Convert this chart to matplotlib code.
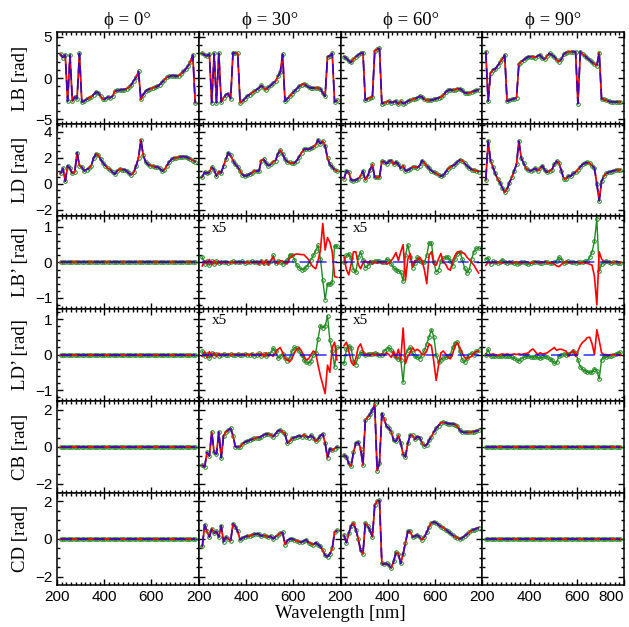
import matplotlib
matplotlib.use("Agg")
import matplotlib.pyplot as plt
from matplotlib.ticker import MultipleLocator

# wavelength grid [nm]
wl = list(range(215, 790, 10))

# ---- LB [rad] ----
lb_0 = [2.9, 2.5, 2.8, -2.8, 2.8, -2.8, -2.3, -2.5, 3.0, -2.9,
        -2.8, -2.6, -2.4, -2.3, -2.0, -1.7, -1.8, -2.2, -2.6, -2.5,
        -2.3, -2.4, -2.2, -1.6, -1.5, -1.5, -1.4, -1.4, -1.3, -1.1,
        -0.8, -0.3, 0.1, 0.8, -2.6, -2.0, -1.6, -1.4, -1.3, -1.2,
        -1.1, -1.0, -0.8, -0.5, -0.2, 0.1, 0.2, 0.3, 0.3, 0.2,
        0.3, 0.5, 0.8, 1.1, 1.5, 2.0, 2.8, -3.0]
lb_30 = [3.0, 2.8, 2.7, 2.9, -3.0, 3.0, -3.0, 3.0, -2.9, -2.4,
         -2.0, -1.9, -2.5, 3.1, 3.0, 3.0, -3.0, -2.8, -2.5, -2.2,
         -2.0, -1.8, -1.6, -1.4, -1.2, -0.9, -1.2, -1.4, -1.1, -0.9,
         -0.6, -0.4, 0.2, 0.7, 2.9, -2.8, -2.5, -2.2, -1.9, -1.6,
         -1.3, -1.0, -0.8, -0.7, -0.9, -1.1, -1.2, -1.2, -1.2, -1.2,
         -1.3, -1.8, -2.2, 2.6, 2.7, 3.0, -2.9, -2.7]
lb_60 = [2.6, 2.4, 2.1, 1.9, 2.3, 2.6, 2.8, 3.0, 3.1, -2.7,
         -2.5, -2.4, -2.3, 3.3, 3.5, 3.6, -3.1, -3.0, -2.9, -2.8,
         -3.0, -2.9, -2.8, -3.2, -2.8, -3.1, -3.0, -2.8, -2.7, -2.6,
         -2.5, -2.4, -2.2, -2.3, -2.6, -2.7, -2.7, -2.7, -2.6, -2.5,
         -2.4, -2.3, -2.1, -1.7, -1.5, -1.4, -1.5, -1.4, -1.3, -1.3,
         -1.5, -1.8, -1.8, -1.8, -1.7, -1.6, -1.5, -1.4]
lb_90 = [3.2, -2.8, 0.6, 1.0, 1.1, 1.5, 1.9, 2.3, 2.8, -2.8,
         -2.7, -2.6, -2.5, -2.4, 1.7, 2.0, 2.2, 2.4, 2.6, 2.6,
         2.6, 2.5, 2.7, 2.8, 2.4, 2.3, 2.7, 3.0, 2.8, 2.6,
         2.2, 2.0, 2.3, 2.9, 3.1, 3.2, 3.2, 3.2, 3.2, -3.1,
         3.2, 2.9, 2.7, 2.4, 2.2, 1.9, 1.7, 1.5, 3.1, -2.5,
         -2.6, -2.7, -2.8, -2.9, -2.9, -2.9, -2.9, -2.9]

# ---- LD [rad] ----
ld_0 = [0.8, 1.2, 0.2, 1.4, 1.2, 0.8, 0.9, 2.4, 1.4, 1.3,
        1.0, 1.1, 1.2, 1.4, 2.0, 2.3, 2.2, 1.9, 1.6, 1.4,
        1.2, 1.1, 0.9, 0.75, 1.0, 1.15, 1.1, 1.1, 1.0, 0.8,
        0.7, 0.9, 1.4, 2.0, 3.4, 2.2, 1.7, 1.5, 1.4, 1.4,
        1.3, 1.3, 1.2, 1.0, 1.1, 1.4, 1.7, 1.9, 2.0, 2.0,
        2.05, 2.1, 2.1, 2.1, 2.0, 1.9, 1.8, 1.7]
ld_30 = [0.55, 0.9, 0.8, 0.9, 1.3, 1.1, 0.6, 0.95, 0.85, 1.4,
         1.9, 2.4, 2.2, 1.8, 1.5, 1.3, 1.0, 0.7, 0.6, 0.65,
         0.75, 0.85, 1.0, 1.0, 1.0, 1.8, 1.9, 1.6, 1.4, 1.5,
         1.7, 1.8, 2.3, 2.6, 2.3, 1.9, 1.7, 1.65, 1.6, 1.6,
         1.8, 2.1, 2.4, 2.65, 2.7, 2.65, 2.75, 2.85, 3.0, 3.4,
         3.1, 3.3, 2.9, 2.0, 1.5, 1.3, 1.1, 1.0]
ld_60 = [0.4, 1.0, 0.9, 0.3, 0.25, 0.3, 0.4, 0.6, 1.0, 0.3,
         0.6, 1.1, 1.5, 0.5, 0.5, 0.5, 1.75, 1.7, 1.55, 1.75,
         1.8, 1.5, 1.7, 1.5, 1.2, 1.4, 1.0, 1.05, 1.15, 1.3,
         1.3, 1.25, 1.4, 1.8, 1.6, 1.4, 1.2, 1.0, 0.9, 0.8,
         0.7, 0.6, 0.65, 0.9, 1.15, 1.3, 1.4, 1.5, 1.7, 1.85,
         1.8, 1.6, 1.4, 1.25, 1.1, 1.05, 1.0, 0.95]
ld_90 = [0.3, 3.3, 1.8, 1.3, 0.8, 0.4, 0.1, -0.3, -0.65, -0.4,
         0.1, 0.5, 1.0, 1.5, 3.3, 2.0, 1.6, 1.2, 1.05, 1.0,
         1.1, 1.2, 1.0, 1.2, 1.4, 1.05, 0.9, 1.0, 1.1, 1.5,
         1.75, 1.6, 1.0, 0.4, 0.4, 0.6, 0.6, 0.8, 0.9, 1.1,
         1.3, 1.5, 1.6, 1.65, 1.6, 1.4, 1.2, 0.0, -1.3, 0.2,
         0.6, 0.8, 0.9, 0.95, 1.0, 1.05, 1.05, 1.1]

# ---- LB' (x5 for 30/60 deg), green = circles, red = line ----
lbp_30_g = [0.15, -0.05, 0.05, -0.08, 0.03, -0.05, 0.04, -0.03, 0.02, 0.0,
            0.02, -0.02, 0.01, 0.03, 0.0, 0.02, 0.0, 0.03, -0.03, 0.02,
            0.0, 0.03, 0.01, 0.0, -0.02, 0.03, -0.02, 0.04, -0.03, 0.05,
            0.2, -0.03, 0.05, 0.0, -0.05, 0.0, 0.07, 0.22, 0.2, 0.08,
            -0.08, -0.15, -0.2, -0.19, -0.12, -0.04, 0.08, 0.2, 0.33, 0.48,
            0.1, -0.5, -1.05, -0.6, -0.62, -0.55, 0.47, 0.45]
lbp_30_r = [-0.1, 0.05, -0.05, 0.08, -0.06, 0.05, -0.05, 0.04, -0.03, 0.02,
            -0.02, 0.02, -0.02, 0.02, -0.02, 0.02, -0.02, 0.02, -0.02, 0.02,
            -0.02, 0.02, -0.02, 0.03, -0.05, 0.05, -0.06, 0.06, -0.07, 0.05,
            0.15, 0.0, -0.04, 0.05, 0.04, -0.02, -0.04, 0.12, 0.18, 0.22,
            0.24, 0.23, 0.22, 0.22, 0.15, 0.08, -0.05, -0.13, -0.18, 0.05,
            0.34, 1.1, 0.35, 0.7, 0.57, 0.3, -0.4, -0.42]
lbp_60_g = [0.0, 0.2, 0.25, 0.12, -0.2, -0.28, 0.15, 0.3, 0.08, -0.15,
            -0.1, 0.0, 0.02, 0.03, 0.05, 0.03, 0.0, 0.0, 0.1, 0.05,
            -0.05, -0.15, -0.2, -0.25, -0.27, -0.53, 0.2, 0.5, 0.15, -0.15,
            -0.03, 0.15, 0.05, 0.0, 0.0, 0.2, 0.55, 0.55, 0.0, -0.27,
            -0.2, 0.05, 0.12, 0.15, 0.15, 0.05, -0.1, 0.1, 0.25, 0.3,
            0.1, -0.15, -0.3, -0.2, 0.1, 0.3, 0.4, 0.42]
lbp_60_r = [0.15, -0.2, -0.35, -0.05, 0.3, 0.3, -0.05, -0.18, -0.02, 0.05,
            -0.02, 0.04, -0.04, 0.02, -0.02, 0.03, -0.03, 0.02, -0.05, -0.02,
            0.05, 0.15, 0.28, 0.05, 0.3, 0.5, -0.5, 0.1, 0.25, -0.12,
            0.05, 0.05, 0.15, 0.05, -0.2, -0.6, 0.2, 0.3, -0.05, -0.08,
            0.1, 0.25, 0.0, -0.05, -0.18, -0.22, 0.05, 0.2, 0.3, 0.3,
            0.28, 0.25, 0.15, 0.08, 0.0, -0.08, -0.2, -0.3]
lbp_90_g = [0.1, 0.12, -0.05, 0.03, 0.0, -0.03, 0.02, 0.08, 0.0, -0.03,
            0.02, 0.0, -0.02, -0.05, -0.03, 0.02, 0.0, -0.02, -0.05, -0.03,
            0.0, 0.02, 0.0, -0.03, -0.02, 0.0, 0.0, -0.03, -0.02, 0.0,
            0.05, 0.15, 0.08, -0.03, 0.0, 0.03, 0.0, 0.0, -0.02, 0.0,
            0.0, 0.02, 0.03, 0.05, 0.15, 0.3, 0.6, 1.23, -0.25, -0.05,
            0.0, 0.05, 0.0, -0.02, 0.0, 0.0, -0.03, -0.02]
lbp_90_r = [-0.08, 0.0, -0.02, 0.02, -0.02, 0.02, 0.0, -0.02, 0.0, 0.02,
            0.0, -0.02, 0.0, 0.02, 0.0, -0.02, 0.0, 0.02, 0.0, -0.02,
            0.0, 0.02, 0.0, -0.02, 0.0, 0.02, 0.0, -0.02, 0.0, -0.05,
            -0.1, -0.12, -0.06, 0.0, 0.02, 0.0, -0.02, 0.0, 0.02, 0.0,
            -0.02, 0.0, -0.02, -0.03, -0.05, -0.08, -0.4, -1.2, 0.3, 0.1,
            0.02, 0.0, 0.02, 0.0, 0.0, 0.02, 0.0, 0.0]

# ---- LD' ----
ldp_30_g = [0.1, -0.05, 0.03, -0.1, 0.05, -0.03, 0.02, -0.03, 0.0, 0.02,
            -0.02, 0.0, 0.02, -0.02, 0.0, 0.02, -0.02, 0.0, 0.02, -0.02,
            0.0, 0.03, -0.03, 0.0, 0.04, -0.04, 0.02, -0.05, 0.03, 0.05,
            0.18, 0.1, -0.1, -0.05, 0.02, -0.1, -0.17, -0.1, 0.1, 0.2,
            0.18, 0.1, 0.0, -0.15, -0.22, -0.25, -0.18, 0.0, 0.05, 0.45,
            0.82, 0.75, 0.8, 1.1, 0.4, 0.1, -0.35, 0.2]
ldp_30_r = [-0.05, 0.08, -0.08, 0.08, -0.06, 0.05, -0.05, 0.04, -0.03, 0.02,
            -0.02, 0.02, -0.02, 0.02, -0.02, 0.02, -0.02, 0.02, -0.02, 0.02,
            -0.02, 0.02, -0.03, 0.03, -0.04, 0.04, -0.05, 0.05, -0.04, 0.0,
            -0.05, 0.05, 0.15, 0.2, 0.05, -0.1, -0.15, -0.2, -0.1, 0.05,
            0.15, 0.2, 0.1, -0.05, -0.15, -0.12, 0.0, 0.1, 0.05, -0.3,
            -0.6, -0.85, -1.1, -0.3, -0.5, 0.2, 0.35, -0.15]
ldp_60_g = [-0.25, 0.15, 0.25, 0.18, -0.2, -0.28, -0.05, 0.06, 0.05, 0.0,
            0.02, 0.02, 0.01, 0.05, 0.03, 0.0, 0.0, 0.1, 0.15, 0.2,
            0.12, 0.0, -0.08, -0.12, -0.15, -0.78, 0.0, 0.12, 0.2, 0.05,
            -0.05, -0.08, -0.12, 0.0, 0.12, 0.3, 0.5, 0.7, 0.5, 0.0,
            -0.22, -0.15, -0.1, -0.08, -0.05, 0.0, 0.2, 0.33, 0.35, 0.1,
            -0.15, -0.22, -0.1, 0.0, 0.05, 0.0, 0.1, 0.12]
ldp_60_r = [0.25, 0.35, 0.1, -0.2, -0.3, -0.1, 0.2, 0.3, 0.1, -0.03,
            0.02, -0.02, 0.03, -0.03, 0.02, -0.02, 0.02, -0.02, 0.05, 0.0,
            -0.08, 0.1, -0.1, 0.15, -0.15, 0.75, -0.25, -0.05, 0.05, 0.2,
            0.1, 0.15, 0.1, 0.0, 0.0, 0.1, 0.3, 0.25, -0.2, -0.73,
            -0.3, 0.05, 0.1, 0.02, -0.08, -0.12, 0.02, 0.25, 0.33, 0.2,
            0.05, -0.08, -0.12, -0.08, -0.05, 0.05, 0.08, 0.1]
ldp_90_g = [0.0, 0.15, -0.05, -0.03, -0.05, -0.03, -0.05, -0.03, -0.05, -0.03,
            -0.05, -0.08, -0.1, -0.15, -0.17, -0.12, -0.08, -0.05, -0.05, -0.08,
            -0.07, -0.06, -0.08, -0.1, -0.08, -0.05, -0.08, -0.12, -0.15, -0.25,
            -0.22, -0.05, 0.0, 0.02, 0.0, 0.03, 0.05, 0.1, 0.05, -0.15,
            -0.35, -0.42, -0.45, -0.5, -0.5, -0.5, -0.4, -0.45, -0.69, -0.15,
            -0.05, -0.08, -0.05, -0.03, 0.0, 0.02, 0.05, 0.06]
ldp_90_r = [0.02, -0.03, 0.0, 0.02, 0.0, -0.02, 0.0, 0.02, 0.0, 0.02,
            0.0, 0.0, 0.02, 0.0, 0.02, 0.0, 0.02, 0.03, 0.05, 0.12,
            0.16, 0.08, 0.0, 0.05, 0.02, 0.03, 0.05, 0.1, 0.15, 0.2,
            0.12, 0.15, 0.15, 0.12, 0.1, -0.05, 0.05, 0.12, -0.05, 0.1,
            0.25, 0.35, 0.4, 0.48, 0.49, 0.3, 0.0, 0.7, 0.4, 0.05,
            0.0, 0.0, -0.02, 0.0, 0.0, -0.02, 0.0, 0.0]

# ---- CB / CD [rad] ----
cb_30 = [-1.0, -1.1, -0.3, -0.5, 0.8, -0.3, -0.4, 0.8, -0.6, 0.6,
         0.8, 0.9, 1.0, 0.6, 0.0, 0.0, 0.0, 0.15, 0.25, 0.3,
         0.35, 0.4, 0.45, 0.5, 0.5, 0.55, 0.65, 0.68, 0.68, 0.65,
         0.55, 0.7, 0.85, 0.9, 0.8, 0.7, 0.2, 0.3, 0.45, 0.5,
         0.55, 0.6, 0.55, 0.65, 0.55, 0.5, 0.62, 0.5, 0.3, 0.4,
         0.6, 0.7, 0.2, -0.6, -0.1, -0.2, -0.1, 0.0]
cb_60 = [-0.45, -0.55, -0.9, -1.05, -0.3, 0.2, 0.25, -0.1, -1.0, 1.45,
         1.6, 1.75, 2.0, 2.3, -1.3, -0.9, 1.8, 1.5, 1.1, 1.0,
         0.8, 0.35, 0.3, 0.62, 0.2, -0.4, -0.55, 0.2, 0.62, 0.62,
         0.4, 0.55, 0.5, 0.2, 0.05, 0.1, 0.35, 0.55, 0.8, 1.0,
         1.15, 1.3, 1.33, 1.3, 1.25, 1.25, 1.25, 1.2, 1.1, 0.9,
         0.8, 0.78, 0.78, 0.78, 0.8, 0.82, 0.85, 0.9]
cd_30 = [-0.4, 0.75, 0.4, 0.1, 0.55, 0.3, 0.4, 0.1, 0.7, -0.15,
         0.1, 0.0, -0.1, 0.8, 0.65, 0.4, -0.05, 0.05, 0.1, 0.15,
         0.15, 0.2, 0.25, 0.27, 0.25, 0.15, 0.2, 0.15, 0.1, 0.15,
         0.0, 0.12, 0.2, 0.3, 0.35, -0.3, -0.1, 0.0, 0.0, -0.05,
         -0.1, -0.15, -0.18, -0.1, -0.05, -0.2, -0.25, -0.3, -0.2, -0.3,
         -0.4, -0.6, -0.87, -0.95, -0.8, -0.5, 0.35, 0.45]
cd_60 = [0.2, -0.2, 0.3, 0.7, 0.85, 0.5, 0.0, -0.6, -0.8, 0.85,
         0.7, 0.45, 0.1, 1.8, 2.0, 2.05, -1.3, -1.35, -1.3, -1.4,
         -1.55, -1.2, -0.7, -0.8, -1.3, -0.8, -0.2, 0.4, 0.4, 0.1,
         0.15, 0.2, 0.1, -0.05, 0.1, 0.35, 0.65, 0.85, 0.9, 0.85,
         0.75, 0.65, 0.6, 0.5, 0.4, 0.3, 0.2, 0.12, 0.05, 0.0,
         0.05, 0.15, 0.25, 0.35, 0.45, 0.5, 0.55, 0.6]

zero = [0.0] * len(wl)

angles = ["\u03d5 = 0\u00b0", "\u03d5 = 30\u00b0", "\u03d5 = 60\u00b0", "\u03d5 = 90\u00b0"]
row_labels = ["LB [rad]", "LD [rad]", "LB\u2019 [rad]", "LD\u2019 [rad]", "CB [rad]", "CD [rad]"]
ylims = [(-5.6, 5.6), (-2.5, 4.6), (-1.3, 1.3), (-1.3, 1.3), (-2.5, 2.5), (-2.45, 2.45)]
ymajor = [5, 2, 1, 1, 2, 2]
yminor = [1, 0.5, 0.2, 0.2, 0.5, 0.5]

# (green, red, blue) per panel
panels = [
    [(lb_0, lb_0, lb_0), (lb_30, lb_30, lb_30), (lb_60, lb_60, lb_60), (lb_90, lb_90, lb_90)],
    [(ld_0, ld_0, ld_0), (ld_30, ld_30, ld_30), (ld_60, ld_60, ld_60), (ld_90, ld_90, ld_90)],
    [(zero, zero, zero), (lbp_30_g, lbp_30_r, zero), (lbp_60_g, lbp_60_r, zero), (lbp_90_g, lbp_90_r, zero)],
    [(zero, zero, zero), (ldp_30_g, ldp_30_r, zero), (ldp_60_g, ldp_60_r, zero), (ldp_90_g, ldp_90_r, zero)],
    [(zero, zero, zero), (cb_30, cb_30, cb_30), (cb_60, cb_60, cb_60), (zero, zero, zero)],
    [(zero, zero, zero), (cd_30, cd_30, cd_30), (cd_60, cd_60, cd_60), (zero, zero, zero)],
]

SERIF = ["Liberation Serif", "DejaVu Serif"]
GREEN = "#1f8a1f"

plt.rcParams["font.family"] = ["Liberation Sans", "DejaVu Sans"]

fig, axes = plt.subplots(6, 4, figsize=(6.29, 6.27), dpi=100)
fig.subplots_adjust(left=57 / 629, right=624 / 629, top=1 - 32 / 627, bottom=1 - 585 / 627,
                    wspace=0, hspace=0)

for r in range(6):
    for c in range(4):
        ax = axes[r, c]
        g, rd, b = panels[r][c]
        ax.plot(wl, g, color=GREEN, lw=1.0, marker="o", ms=2.6, mfc="none", mew=0.7, zorder=2)
        ax.plot(wl, rd, color="red", lw=1.2, zorder=3)
        ax.plot(wl, b, color="blue", lw=1.3, dashes=(6, 3), alpha=0.7, zorder=4)

        ax.set_xlim(200, 800)
        ax.set_ylim(*ylims[r])
        ax.xaxis.set_major_locator(MultipleLocator(200))
        ax.xaxis.set_minor_locator(MultipleLocator(20))
        ax.yaxis.set_major_locator(MultipleLocator(ymajor[r]))
        ax.yaxis.set_minor_locator(MultipleLocator(yminor[r]))
        ax.tick_params(which="both", direction="in", top=True, right=True, labelsize=11, width=1)
        ax.tick_params(which="major", length=4)
        ax.tick_params(which="minor", length=2)
        for s in ax.spines.values():
            s.set_linewidth(1.1)

        if r < 5:
            ax.set_xticklabels([])
        else:
            ax.set_xticks([200, 400, 600, 800])
            labels = ax.set_xticklabels(["200", "400", "600", "800" if c == 3 else ""])
            labels[-1].set_horizontalalignment("right")
        if c > 0:
            ax.set_yticklabels([])

        if r == 0:
            ax.set_title(angles[c], fontsize=13.5, family=SERIF, pad=5)
        if r in (2, 3) and c in (1, 2):
            ax.text(0.09, 0.87, "x5", transform=ax.transAxes, fontsize=11,
                    family=SERIF, va="center")

    y_mid = (axes[r, 0].get_position().y0 + axes[r, 0].get_position().y1) / 2
    fig.text(20 / 629, y_mid, row_labels[r], rotation=90, fontsize=13.5, family=SERIF,
             ha="center", va="center")

fig.text(340 / 629, 1 - 614 / 627, "Wavelength [nm]", fontsize=13.5, family=SERIF,
         ha="center", va="center")

fig.savefig("out.png", dpi=100)
